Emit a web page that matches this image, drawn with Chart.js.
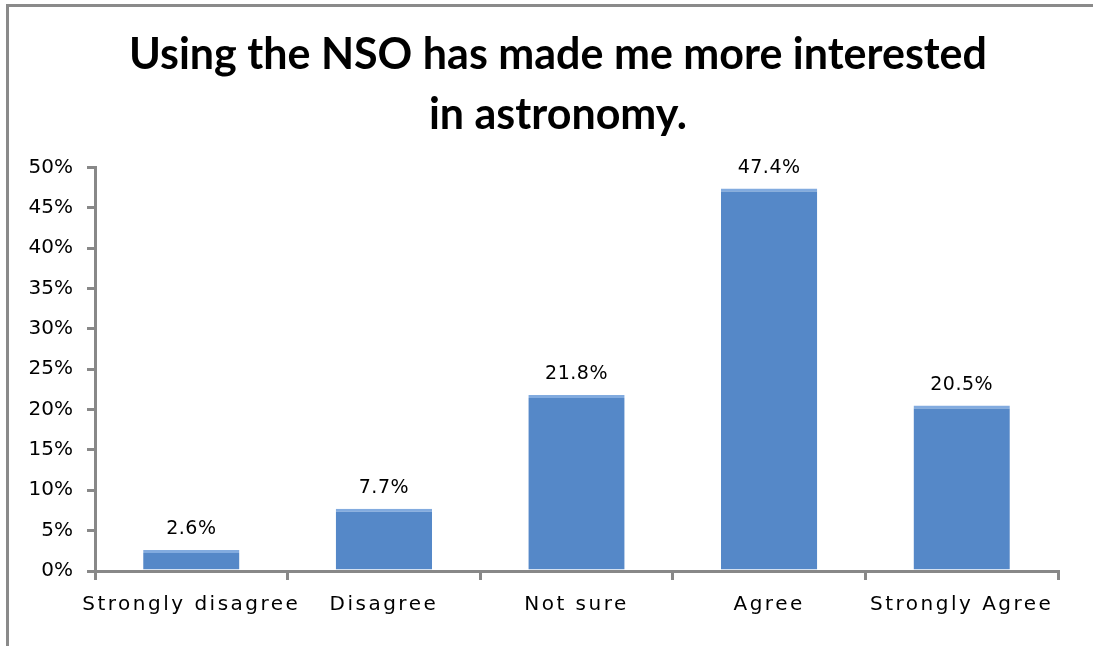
<!DOCTYPE html>
<html>
<head>
<meta charset="utf-8">
<script src="https://cdn.jsdelivr.net/npm/chart.js@4"></script>
<style>
	body { margin: 0; background: #fff; }
	#wrap { position: relative; width: 1093px; height: 646px; }
	#frame { position: absolute; left: 6px; top: 4px; right: 0; bottom: 0;
		border-top: 3px solid #8a8a8a; border-left: 3px solid #8a8a8a; pointer-events: none; }
</style>
</head>
<body>
<div id="wrap">
	<canvas id="chart" width="1093" height="646"></canvas>
	<div id="frame"></div>
</div>
<script>
// values
var categories = ["Strongly disagree", "Disagree", "Not sure", "Agree", "Strongly Agree"];
var percents   = [2.6, 7.7, 21.8, 47.4, 20.5];
var titleLines = ["Using the NSO has made me more interested", "in astronomy."];

// write the value above each bar
var valueLabels = {
	id: 'valueLabels',
	afterDatasetsDraw: function (chart) {
		var ctx = chart.ctx;
		var meta = chart.getDatasetMeta(0);
		ctx.save();
		ctx.font = "19px 'DejaVu Sans'";
		ctx.letterSpacing = "0.5px";
		ctx.fillStyle = "#000";
		ctx.textAlign = "center";
		ctx.textBaseline = "bottom";
		meta.data.forEach(function (bar, i) {
			ctx.fillText(percents[i].toFixed(1) + "%", bar.x, bar.y - 11);
		});
		ctx.restore();
	}
};

// spaced category names; y labels may run left of the (narrow) y scale box
var axisTweaks = {
	id: 'axisTweaks',
	afterLayout: function (chart) {
		var sx = chart.scales.x;
		var sy = chart.scales.y;
		if (!sx._spaced) {
			var orig = sx.drawLabels;
			sx.drawLabels = function (area) {
				var c = this.ctx;
				c.save();
				c.letterSpacing = "2.5px";
				orig.call(this, area);
				c.restore();
			};
			sx._spaced = true;
		}
		sy._computeLabelArea = function () { return undefined; };
	}
};

// bevel-ish look on the bars
function barFill(context) {
	var chart = context.chart;
	var el = context.element;
	if (!el || el.x === undefined) return "#5588c8";
	var w = el.width || 96;
	var g = chart.ctx.createLinearGradient(el.x - w / 2, 0, el.x + w / 2, 0);
	g.addColorStop(0, "#6696d3");
	g.addColorStop(0.06, "#5589c9");
	g.addColorStop(0.9, "#5589c9");
	g.addColorStop(1, "#3f6ba5");
	return g;
}

var ctx = document.getElementById("chart").getContext("2d");
var chart = new Chart(ctx, {
	type: 'bar',
	data: {
		labels: categories,
		datasets: [{
			data: percents,
			backgroundColor: barFill,
			borderColor: "#82abdf",
			borderWidth: { top: 3, left: 0, right: 0, bottom: 0 },
			categoryPercentage: 1.0,
			barPercentage: 0.5
		}]
	},
	plugins: [valueLabels, axisTweaks],
	options: {
		responsive: false,
		animation: false,
		layout: { padding: { left: 58, right: 35, top: 0, bottom: 20 } },
		plugins: {
			legend: { display: false },
			tooltip: { enabled: false },
			title: {
				display: true,
				text: titleLines,
				color: "#000",
				font: { family: "Lato", size: 43, weight: "bold", lineHeight: 1.4 },
				padding: { top: 25, bottom: 22 }
			}
		},
		scales: {
			y: {
				min: 0,
				max: 50,
				afterFit: function (scale) { scale.width = 37; },
				ticks: {
					stepSize: 5,
					color: "#000",
					padding: 14,
					font: { family: "DejaVu Sans", size: 20 },
					callback: function (v) { return v + "%"; }
				},
				grid: { drawOnChartArea: false, drawTicks: true, tickLength: 8, color: "#888", lineWidth: 3 },
				border: { color: "#888", width: 3 }
			},
			x: {
				afterFit: function (scale) { scale.height = 55; },
				ticks: {
					color: "#000",
					padding: 13,
					maxRotation: 0,
					font: { family: "DejaVu Sans", size: 20 }
				},
				grid: { offset: true, drawOnChartArea: false, drawTicks: true, tickLength: 9, color: "#888", lineWidth: 3 },
				border: { color: "#888", width: 3 }
			}
		}
	}
});
</script>
</body>
</html>
